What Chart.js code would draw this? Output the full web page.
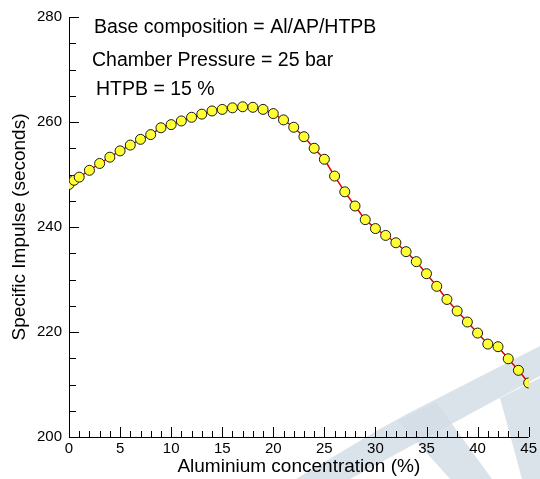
<!DOCTYPE html>
<html>
<head>
<meta charset="utf-8">
<script src="https://cdn.jsdelivr.net/npm/chart.js@4.4.1/dist/chart.umd.min.js"></script>
<style>
  html, body { margin: 0; padding: 0; background: #fff; }
  #wrap { width: 540px; height: 479px; position: relative; }
</style>
</head>
<body>
<div id="wrap"><canvas id="isp"></canvas></div>
<script>
// Al/AP/HTPB propellant: specific impulse vs aluminium loading
const aluminiumPct = [
  0, 0.5, 1, 2, 3, 4, 5, 6, 7, 8, 9, 10, 11, 12, 13, 14, 15, 16, 17, 18, 19, 20,
  21, 22, 23, 24, 25, 26, 27, 28, 29, 30, 31, 32, 33, 34, 35, 36, 37, 38, 39, 40,
  41, 42, 43, 44, 45
];
const specificImpulse = [
  248.1, 248.9, 249.5, 250.8, 252.1, 253.3, 254.5, 255.6, 256.7, 257.6, 258.9, 259.5,
  260.2, 260.9, 261.5, 262.1, 262.4, 262.7, 262.9, 262.8, 262.4, 261.6,
  260.4, 259.0, 257.2, 255.0, 252.9, 249.7, 246.7, 244.0, 241.4, 239.7, 238.4, 237.0,
  235.3, 233.4, 231.1, 228.7, 226.2, 224.0, 221.9, 219.8,
  217.7, 217.2, 214.9, 212.7, 210.3
];
const xTicks = [0, 5, 10, 15, 20, 25, 30, 35, 40, 45];
const yTicks = [200, 220, 240, 260, 280];
const notes = [
  'Base composition = Al/AP/HTPB',
  'Chamber Pressure = 25 bar',
  'HTPB = 15 %'
];

const FONT = 'Arial, "Liberation Sans", sans-serif';

// faint logo in the lower right corner
const backdrop = {
  id: 'backdrop',
  beforeDraw(chart) {
    const { ctx } = chart;
    ctx.save();
    ctx.fillStyle = '#fff';
    ctx.fillRect(0, 0, chart.width, chart.height);
    ctx.fillStyle = 'rgba(212, 221, 230, 0.85)';
    const shapes = [
      [[296, 479], [378, 430], [407, 414], [540, 346], [540, 376], [350, 479]],
      [[398, 421], [436, 402], [492, 479], [450, 479]],
      [[500, 398], [540, 378], [540, 479], [522, 479]]
    ];
    shapes.forEach((pts) => {
      ctx.beginPath();
      pts.forEach(([x, y], i) => (i ? ctx.lineTo(x, y) : ctx.moveTo(x, y)));
      ctx.closePath();
      ctx.fill();
    });
    ctx.restore();
  }
};

// axis lines with inward major/minor ticks, plus the annotation block
const frame = {
  id: 'frame',
  beforeDatasetsDraw(chart) {
    const { ctx, chartArea: a, scales: { x, y } } = chart;
    ctx.save();
    ctx.strokeStyle = '#000';
    ctx.lineWidth = 1;
    ctx.beginPath();
    ctx.moveTo(a.left + 0.5, a.top);
    ctx.lineTo(a.left + 0.5, a.bottom + 0.5);
    ctx.lineTo(a.right, a.bottom + 0.5);
    ctx.stroke();

    ctx.beginPath();
    for (let v = 0; v <= 45; v++) {
      const px = Math.round(x.getPixelForValue(v)) + 0.5;
      const len = v % 5 === 0 ? 10 : 6;
      ctx.moveTo(px, a.bottom);
      ctx.lineTo(px, a.bottom - len);
    }
    for (let v = 200; v <= 280; v += 5) {
      const py = Math.round(y.getPixelForValue(v)) + 0.5;
      const len = v % 20 === 0 ? 10 : 7;
      ctx.moveTo(a.left, py);
      ctx.lineTo(a.left + len, py);
    }
    ctx.stroke();

    ctx.fillStyle = '#000';
    ctx.font = `19.5px ${FONT}`;
    ctx.textBaseline = 'alphabetic';
    ctx.fillText(notes[0], 94, 33);
    ctx.fillText(notes[1], 92, 66);
    ctx.fillText(notes[2], 96, 95);
    ctx.restore();
  }
};

new Chart(document.getElementById('isp'), {
  type: 'line',
  data: {
    datasets: [{
      data: aluminiumPct.map((v, i) => ({ x: v, y: specificImpulse[i] })),
      borderColor: '#e00000',
      borderWidth: 1.5,
      tension: 0,
      pointRadius: 5,
      pointBackgroundColor: '#ffff33',
      pointBorderColor: '#1a1a1a',
      pointBorderWidth: 1
    }]
  },
  options: {
    responsive: true,
    maintainAspectRatio: false,
    animation: false,
    layout: { padding: { top: 17, right: 11, left: 0, bottom: 0 } },
    plugins: { legend: { display: false }, tooltip: { enabled: false } },
    scales: {
      x: {
        type: 'linear',
        min: 0,
        max: 45,
        afterBuildTicks: (s) => { s.ticks = xTicks.map((v) => ({ value: v })); },
        afterFit: (s) => { s.height = 42; },
        grid: { display: false, drawTicks: false },
        border: { display: false },
        ticks: { color: '#000', font: { family: FONT, size: 15 }, padding: 3, maxRotation: 0 },
        title: {
          display: true,
          text: 'Aluminium concentration (%)',
          color: '#000',
          font: { family: FONT, size: 19 },
          padding: { top: 0, bottom: 1 }
        }
      },
      y: {
        min: 200,
        max: 280,
        afterBuildTicks: (s) => { s.ticks = yTicks.map((v) => ({ value: v })); },
        afterFit: (s) => { s.width = 69; },
        grid: { display: false, drawTicks: false },
        border: { display: false },
        ticks: { color: '#000', font: { family: FONT, size: 15 }, padding: 7 },
        title: {
          display: true,
          text: 'Specific Impulse (seconds)',
          color: '#000',
          font: { family: FONT, size: 19 },
          padding: { top: 8, bottom: 0 }
        }
      }
    }
  },
  plugins: [backdrop, frame]
});
</script>
</body>
</html>
